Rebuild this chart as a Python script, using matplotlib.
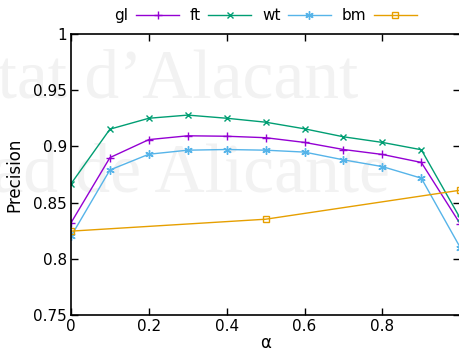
import matplotlib
matplotlib.use('Agg')
import matplotlib.pyplot as plt

# alpha values and precision per method
alpha = [0.0, 0.1, 0.2, 0.3, 0.4, 0.5, 0.6, 0.7, 0.8, 0.9, 1.0]
gl = [0.832, 0.890, 0.906, 0.9094, 0.909, 0.9077, 0.9035, 0.8972, 0.8928, 0.8857, 0.831]
ft = [0.8667, 0.9153, 0.925, 0.9278, 0.925, 0.9215, 0.9156, 0.9085, 0.9035, 0.897, 0.836]
wt = [0.820, 0.879, 0.893, 0.8966, 0.8972, 0.8966, 0.8949, 0.888, 0.882, 0.8717, 0.810]
alpha_bm = [0.0, 0.5, 1.0]
bm = [0.8246, 0.8352, 0.861]

fig = plt.figure(figsize=(4.59, 3.53), dpi=100)
ax = fig.add_axes([0.1547, 0.1076, 0.848, 0.7963])

# faint watermark behind the chart
wm = dict(transform=fig.transFigure, fontsize=50, color='#f2f2f2',
          family='Liberation Serif', ha='right', zorder=-5)
fig.text(358 / 459, 1 - 98 / 353, 'Universitat d\u2019Alacant', **wm)
fig.text(390 / 459, 1 - 192 / 353, 'Universidad de Alicante', **wm)
ax.patch.set_alpha(0)

ax.plot(alpha, gl, color='#9400d3', lw=1, marker='+', ms=6, mew=1, label='gl')
ax.plot(alpha, ft, color='#009e73', lw=1, marker='x', ms=5, mew=1, label='ft')
ax.plot(alpha, wt, color='#56b4e9', lw=1, marker=(6, 2, 0), ms=6, mew=1, label='wt')
ax.plot(alpha_bm, bm, color='#e69f00', lw=1, marker='s', ms=5, mew=1, mfc='none', label='bm')

ax.set_xlim(0, 1)
ax.set_ylim(0.75, 1)
ax.set_xticks([0, 0.2, 0.4, 0.6, 0.8])
ax.set_xticklabels(['0', '0.2', '0.4', '0.6', '0.8'])
ax.set_yticks([0.75, 0.8, 0.85, 0.9, 0.95, 1.0])
ax.set_yticklabels(['0.75', '0.8', '0.85', '0.9', '0.95', '1'])
ax.tick_params(direction='in', length=5, width=1, labelsize=11,
               top=True, right=True, pad=3)
for s in ax.spines.values():
    s.set_linewidth(1.2)

ax.set_xlabel('\u03b1', fontsize=12, labelpad=0)
ax.set_ylabel('Precision', fontsize=12, labelpad=7)

ax.legend(loc='lower center', bbox_to_anchor=(0.50, 1.0), ncol=4, frameon=False,
          markerfirst=False, fontsize=11, handlelength=2.8, columnspacing=0.7,
          handletextpad=0.5, borderaxespad=0.3)

fig.savefig('out.png', dpi=100)
